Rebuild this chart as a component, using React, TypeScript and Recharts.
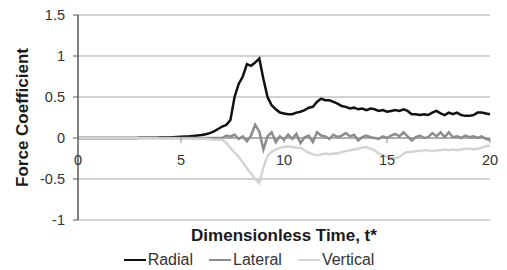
import { LineChart, Line, XAxis, YAxis, CartesianGrid, ReferenceLine, Legend, Label } from 'recharts'

// dimensionless time, step 0.2
const time = [
  0, 0.2, 0.4, 0.6, 0.8, 1, 1.2, 1.4, 1.6, 1.8,
  2, 2.2, 2.4, 2.6, 2.8, 3, 3.2, 3.4, 3.6, 3.8,
  4, 4.2, 4.4, 4.6, 4.8, 5, 5.2, 5.4, 5.6, 5.8,
  6, 6.2, 6.4, 6.6, 6.8, 7, 7.2, 7.4, 7.6, 7.8,
  8, 8.2, 8.4, 8.6, 8.8, 9, 9.2, 9.4, 9.6, 9.8,
  10, 10.2, 10.4, 10.6, 10.8, 11, 11.2, 11.4, 11.6, 11.8,
  12, 12.2, 12.4, 12.6, 12.8, 13, 13.2, 13.4, 13.6, 13.8,
  14, 14.2, 14.4, 14.6, 14.8, 15, 15.2, 15.4, 15.6, 15.8,
  16, 16.2, 16.4, 16.6, 16.8, 17, 17.2, 17.4, 17.6, 17.8,
  18, 18.2, 18.4, 18.6, 18.8, 19, 19.2, 19.4, 19.6, 19.8,
  20,
]

const radial = [
  0, 0, 0, 0, 0, 0, 0, 0, 0, 0,
  0, 0, 0, 0, 0, 0.002, 0.002, 0.003, 0.003, 0.004,
  0.005, 0.006, 0.007, 0.009, 0.012, 0.015, 0.017, 0.02, 0.025, 0.03,
  0.036, 0.045, 0.06, 0.08, 0.11, 0.14, 0.16, 0.22, 0.5, 0.66,
  0.75, 0.9, 0.88, 0.92, 0.97, 0.72, 0.5, 0.4, 0.35, 0.31,
  0.3, 0.29, 0.29, 0.31, 0.32, 0.34, 0.37, 0.38, 0.44, 0.48,
  0.46, 0.46, 0.44, 0.42, 0.39, 0.38, 0.36, 0.37, 0.35, 0.36,
  0.34, 0.36, 0.35, 0.33, 0.34, 0.32, 0.33, 0.34, 0.33, 0.35,
  0.33, 0.29, 0.29, 0.28, 0.29, 0.28, 0.31, 0.33, 0.3, 0.28,
  0.31, 0.29, 0.31, 0.28, 0.27, 0.27, 0.28, 0.31, 0.31, 0.3,
  0.29,
]

const lateral = [
  0, 0, 0, 0, 0, 0, 0, 0, 0, 0,
  0, 0, 0, 0, 0, 0, 0, 0, 0, 0,
  0, 0, 0, 0, 0, 0, 0, 0, 0, 0,
  0, 0, 0, 0, 0, 0, 0.03, 0.02, 0.04, -0.01,
  0.02, -0.04, 0.03, 0.16, 0.08, -0.14, 0.02, 0.07, -0.05, 0.02,
  -0.02, 0.04, -0.01, 0.05, -0.06, 0.01, 0.03, -0.05, 0.07, 0.03,
  0.02, -0.01, 0.04, 0.01, 0.03, 0.06, 0.02, 0.04, -0.03, 0.01,
  0.03, 0.01, 0, -0.01, 0.02, 0, 0.03, 0.05, 0.02, 0.07,
  0.02, -0.03, 0.01, 0.03, 0, 0.01, 0.06, 0.02, 0.07, 0.01,
  0.07, 0.01, 0.02, 0, 0.03, 0.01, 0.02, 0, 0.02, -0.01,
  -0.03,
]

const vertical = [
  0, 0, 0, 0, 0, 0, 0, 0, 0, 0,
  0, 0, 0, 0, 0, -0.002, -0.002, -0.003, -0.003, -0.004,
  -0.005, -0.005, -0.006, -0.006, -0.007, -0.008, -0.008, -0.009, -0.009, -0.01,
  -0.01, -0.01, -0.015, -0.02, -0.02, -0.02, -0.06, -0.12, -0.18, -0.23,
  -0.3, -0.37, -0.43, -0.5, -0.55, -0.36, -0.22, -0.17, -0.14, -0.12,
  -0.11, -0.1, -0.11, -0.12, -0.12, -0.15, -0.18, -0.2, -0.21, -0.2,
  -0.19, -0.2, -0.19, -0.19, -0.17, -0.16, -0.15, -0.14, -0.13, -0.12,
  -0.11, -0.13, -0.15, -0.19, -0.21, -0.23, -0.24, -0.25, -0.23, -0.19,
  -0.17, -0.17, -0.16, -0.16, -0.15, -0.15, -0.16, -0.15, -0.15, -0.14,
  -0.15, -0.14, -0.15, -0.14, -0.13, -0.13, -0.14, -0.13, -0.12, -0.1,
  -0.09,
]

const seriesNames = ['Radial', 'Lateral', 'Vertical']
const xTicks = [0, 5, 10, 15, 20]
const yTicks = [-1, -0.5, 0, 0.5, 1, 1.5]

const data = time.map((t, i) => ({
  t,
  Radial: radial[i],
  Lateral: lateral[i],
  Vertical: vertical[i],
}))

const FONT = '"Liberation Sans", Arial, sans-serif'
const TOP = 15
const PLOT_H = 205
const ZERO_Y = TOP + PLOT_H * (1.5 / 2.5)

function XTick({ x, payload }: any) {
  return (
    <g>
      <line x1={x} x2={x} y1={ZERO_Y} y2={ZERO_Y + 5} stroke='#8c8c8c' />
      <text x={x} y={ZERO_Y + 23} textAnchor='middle' dominantBaseline='middle'
        fontFamily={FONT} fontSize={14.5} fill='#333'>
        {payload.value}
      </text>
    </g>
  )
}

function LegendContent({ payload }: any) {
  const items = [...(payload || [])].sort(
    (a: any, b: any) => seriesNames.indexOf(a.value) - seriesNames.indexOf(b.value)
  )
  return (
    <div style={{ display: 'flex', justifyContent: 'center', gap: 16, fontFamily: FONT, fontSize: 16, color: '#333', lineHeight: '20px', paddingLeft: 8 }}>
      {items.map((p: any) => (
        <div key={p.value} style={{ display: 'flex', alignItems: 'center' }}>
          <span style={{ display: 'inline-block', width: 22, height: 2.5, background: p.color, marginRight: 2 }} />
          {p.value}
        </div>
      ))}
    </div>
  )
}

export default function App() {
  return (
    <div style={{ position: 'absolute', left: 0, top: 0, background: '#fff' }}>
      <LineChart width={507} height={270} data={data} margin={{ top: TOP, right: 17, bottom: 0, left: 0 }}>
        <CartesianGrid vertical={false} stroke='#a6a6a6' />
        <XAxis
          dataKey='t'
          type='number'
          domain={[0, 20]}
          ticks={xTicks}
          interval={0}
          axisLine={false}
          tickLine={false}
          height={30}
          tick={<XTick />}
        >
          <Label value='Dimensionless Time, t*' position='center'
            style={{ fontFamily: FONT, fontSize: 17, fontWeight: 'bold', fill: '#1a1a1a' }} />
        </XAxis>
        <YAxis
          domain={[-1, 1.5]}
          ticks={yTicks}
          width={78}
          axisLine={{ stroke: '#595959', strokeWidth: 1.5 }}
          tickLine={{ stroke: '#595959' }}
          tickSize={5}
          tickMargin={8}
          tick={{ fontFamily: FONT, fontSize: 14.5, fill: '#333' }}
        >
          <Label
            content={({ viewBox }: any) => (
              <text
                x={24}
                y={viewBox.y + viewBox.height / 2}
                transform={`rotate(-90, 24, ${viewBox.y + viewBox.height / 2})`}
                textAnchor='middle'
                dominantBaseline='middle'
                fontFamily={FONT}
                fontSize={17}
                fontWeight='bold'
                fill='#1a1a1a'
              >
                Force Coefficient
              </text>
            )}
          />
        </YAxis>
        <ReferenceLine y={0} stroke='#8c8c8c' />
        <Legend verticalAlign='bottom' height={20} content={<LegendContent />} />
        <Line type='linear' dataKey='Radial' stroke='#111' strokeWidth={2.5} dot={false} isAnimationActive={false} />
        <Line type='linear' dataKey='Lateral' stroke='#8c8c8c' strokeWidth={2.5} dot={false} isAnimationActive={false} />
        <Line type='linear' dataKey='Vertical' stroke='#d4d4d4' strokeWidth={2.5} dot={false} isAnimationActive={false} />
      </LineChart>
    </div>
  )
}
